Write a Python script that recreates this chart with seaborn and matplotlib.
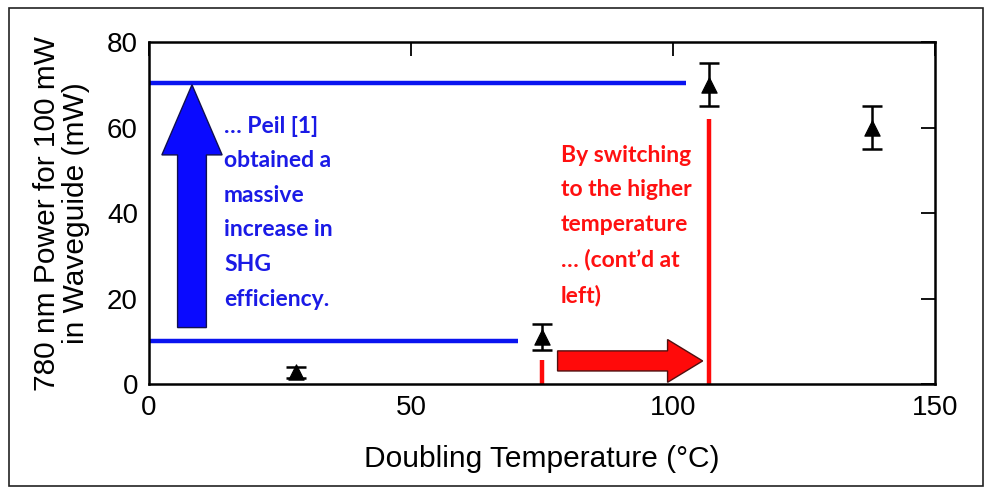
import matplotlib
matplotlib.use("Agg")
import matplotlib.pyplot as plt
import seaborn as sns
import pandas as pd
from matplotlib.patches import Rectangle

# ---- data ----
temps = [28, 75, 107, 138]
power = [2.7, 11, 70, 60]
err = [1.2, 3, 5, 5]

x_ticks = [0, 50, 100, 150]
y_ticks = [0, 20, 40, 60, 80]

blue_levels = [70.5, 10]
blue_ends = [102.5, 70.5]
red_x = [75, 107]
red_tops = [5.5, 62]

blue_text = "… Peil [1]\nobtained a\nmassive\nincrease in\nSHG\nefficiency."
red_text = "By switching\nto the higher\ntemperature\n… (cont’d at\nleft)"

df = pd.DataFrame({"T": temps, "P": power, "E": err})

sns.set_theme(style="white")
plt.rcParams["font.family"] = ["Liberation Sans", "DejaVu Sans"]

fig = plt.figure(figsize=(9.87, 4.92), dpi=100)
ax = fig.add_axes([0.151, 0.2195, 0.796, 0.695])

# border around the figure
fig.patches.append(Rectangle((0.009, 0.012), 0.987, 0.972, transform=fig.transFigure,
                             fill=False, edgecolor="#222222", linewidth=1.2))

# blue horizontal lines
for lvl, end in zip(blue_levels, blue_ends):
    ax.plot([0, end], [lvl, lvl], color="#0a14f0", lw=3.2, solid_capstyle="butt", zorder=2)

# red vertical lines
for xr, top in zip(red_x, red_tops):
    ax.plot([xr, xr], [0, top], color="#ff0a0a", lw=3.2, solid_capstyle="butt", zorder=2)

# blue arrow (vertical)
ax.arrow(8.2, 13.2, 0, 70.0 - 13.2, width=5.5, head_width=11.5, head_length=16.4,
         length_includes_head=True, facecolor="#0a0aff", edgecolor="#101050", lw=1.0, zorder=3)

# red arrow (horizontal)
ax.arrow(78, 5.4, 105.7 - 78, 0, width=4.7, head_width=10, head_length=6.7,
         length_includes_head=True, facecolor="#ff0a0a", edgecolor="#501010", lw=1.0, zorder=3)

# data points with error bars
ax.errorbar(df["T"], df["P"], yerr=df["E"], fmt="none", ecolor="black", elinewidth=1.8,
            capsize=7.5, capthick=1.8, zorder=4)
sns.scatterplot(data=df, x="T", y="P", marker="^", color="black", s=120,
                edgecolor="black", ax=ax, zorder=5, legend=False)

# annotations
ax.text(14.3, 62.8, blue_text, color="#1a1ae6", fontsize=16.5, fontweight="bold",
        family=["Lato", "DejaVu Sans"], va="top", ha="left", linespacing=1.8)
ax.text(78.6, 56.0, red_text, color="#ff1010", fontsize=16.5, fontweight="bold",
        family=["Lato", "DejaVu Sans"], va="top", ha="left", linespacing=1.8)

ax.set_xlim(0, 150)
ax.set_ylim(0, 80)
ax.set_xticks(x_ticks)
ax.set_yticks(y_ticks)
ax.tick_params(direction="in", length=10, width=1.3, top=True, right=True,
               labelsize=20, colors="black", pad=8)
for s in ax.spines.values():
    s.set_color("black")
    s.set_linewidth(1.8)

ax.set_xlabel("Doubling Temperature (°C)", fontsize=21.5, color="black", labelpad=17)
ax.set_ylabel("780 nm Power for 100 mW\nin Waveguide (mW)", fontsize=21.5, color="black",
              labelpad=12, linespacing=1.05)
ax.set_facecolor("white")

fig.savefig("out.png", dpi=100, facecolor="white")
